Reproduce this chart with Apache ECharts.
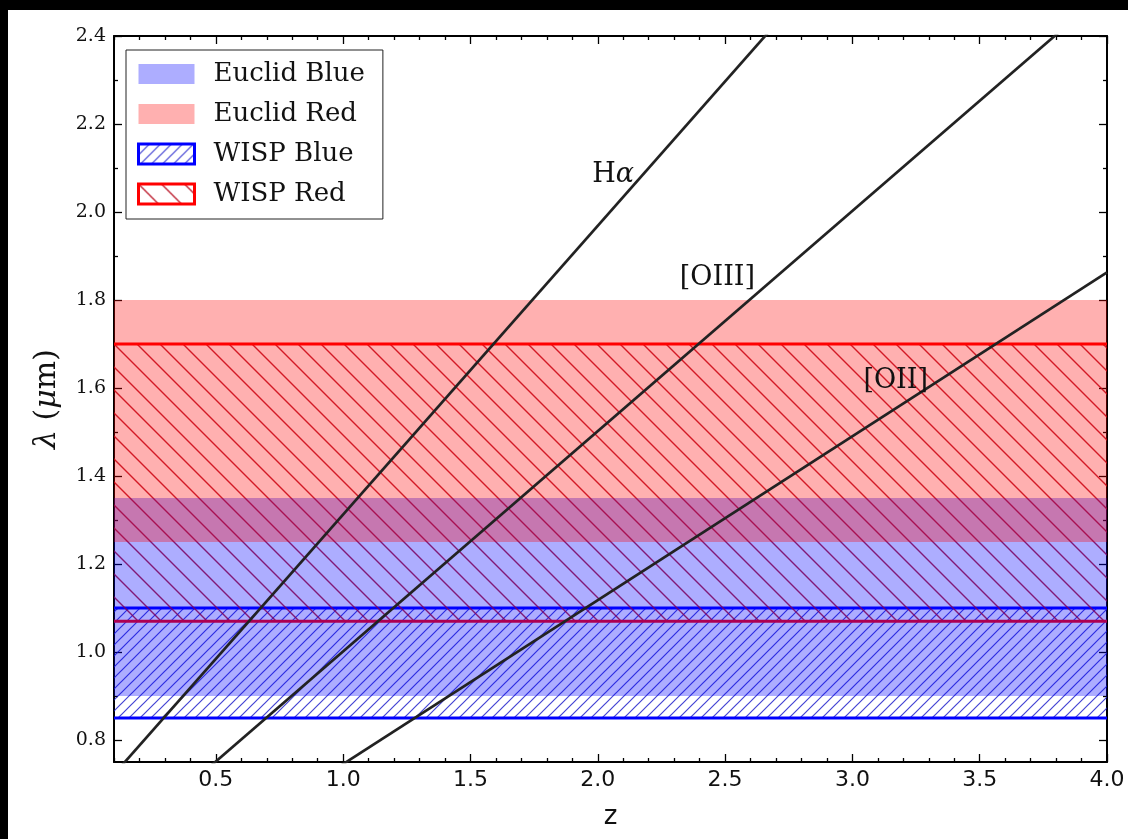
<!DOCTYPE html>
<html>
<head>
<meta charset="utf-8">
<script src="https://cdn.jsdelivr.net/npm/echarts@6/dist/echarts.min.js"></script>
<style>
  html, body { margin: 0; padding: 0; background: #fff; }
  #chart { width: 1128px; height: 839px; }
</style>
</head>
<body>
<div id="chart"></div>
<script>
// Axis ranges and ticks
const zRange = [0.1, 4.0];
const lamRange = [0.75, 2.4];
const zMajor = [0.5, 1.0, 1.5, 2.0, 2.5, 3.0, 3.5, 4.0];
const zMinor = [0.1, 0.2, 0.3, 0.4, 0.6, 0.7, 0.8, 0.9, 1.1, 1.2, 1.3, 1.4, 1.6, 1.7, 1.8, 1.9,
                2.1, 2.2, 2.3, 2.4, 2.6, 2.7, 2.8, 2.9, 3.1, 3.2, 3.3, 3.4, 3.6, 3.7, 3.8, 3.9];
const lamMajor = [0.8, 1.0, 1.2, 1.4, 1.6, 1.8, 2.0, 2.2, 2.4];
const lamMinor = [0.9, 1.1, 1.3, 1.5, 1.7, 1.9, 2.1, 2.3];

// Wavelength coverage of each grism (lower, upper), in microns
const euclidBlue = [0.90, 1.35];
const euclidRed = [1.25, 1.80];
const wispBlue = [0.85, 1.10];
const wispRed = [1.07, 1.70];

// Observed wavelength of each emission line vs redshift: [z, lambda]
const haLine = [[0.1, 0.722], [4.0, 3.281]];
const oiiiLine = [[0.1, 0.551], [4.0, 2.503]];
const oiiLine = [[0.1, 0.410], [4.0, 1.863]];

// Line name labels: text, z, lambda
const labelText = ['H{i|α}', '[OIII]', '[OII]'];
const labelZ = [2.06, 2.47, 3.17];
const labelLam = [2.085, 1.85, 1.615];

function hatch(spacing, color, dir, width) {
  const c = document.createElement('canvas');
  c.width = spacing; c.height = spacing;
  const ctx = c.getContext('2d');
  ctx.strokeStyle = color;
  ctx.lineWidth = width;
  const s = spacing;
  ctx.beginPath();
  if (dir === '/') {
    ctx.moveTo(0, s); ctx.lineTo(s, 0);
    ctx.moveTo(-2, 2); ctx.lineTo(2, -2);
    ctx.moveTo(s - 2, s + 2); ctx.lineTo(s + 2, s - 2);
  } else {
    ctx.moveTo(0, 0); ctx.lineTo(s, s);
    ctx.moveTo(-2, s - 2); ctx.lineTo(2, s + 2);
    ctx.moveTo(s - 2, -2); ctx.lineTo(s + 2, 2);
  }
  ctx.stroke();
  return { image: c, repeat: 'repeat' };
}

const blueHatch = hatch(11, 'rgba(20,20,200,0.8)', '/', 1.2);
const redHatch = hatch(23, 'rgba(180,0,20,0.85)', '\\', 1.4);
const blueFill = 'rgba(0,0,255,0.32)';
const redFill = 'rgba(255,0,0,0.31)';

function bandRenderer(fill, edge) {
  return function (params, api) {
    const p0 = api.coord([api.value(0), api.value(3)]);
    const p1 = api.coord([api.value(1), api.value(2)]);
    const children = [{
      type: 'rect',
      shape: { x: p0[0], y: p0[1], width: p1[0] - p0[0], height: p1[1] - p0[1] },
      style: { fill: fill }
    }];
    if (edge) {
      [p0[1], p1[1]].forEach(function (y) {
        children.push({
          type: 'line',
          shape: { x1: p0[0], y1: y, x2: p1[0], y2: y },
          style: { stroke: edge, lineWidth: 3 }
        });
      });
    }
    return { type: 'group', children: children };
  };
}

function band(name, range, fill, edge) {
  return {
    type: 'custom', name: name,
    xAxisIndex: 0, yAxisIndex: 0,
    data: [[zRange[0], zRange[1], range[0], range[1]]],
    encode: { x: [0, 1], y: [2, 3] },
    renderItem: bandRenderer(fill, edge),
    itemStyle: { color: fill, borderColor: edge || fill, borderWidth: edge ? 3 : 0 },
    silent: true, clip: true
  };
}

function emissionLine(name, pts) {
  return {
    type: 'line', name: name, data: pts,
    xAxisIndex: 0, yAxisIndex: 0,
    showSymbol: false, clip: true, z: 5,
    lineStyle: { color: '#222', width: 2.7 },
    silent: true
  };
}

function xAx(pos, values, len, main) {
  return {
    type: 'value', position: pos, min: zRange[0], max: zRange[1],
    axisLine: { show: main, onZero: false, lineStyle: { color: '#000', width: 2 } },
    axisTick: { show: true, inside: true, length: len, customValues: values, lineStyle: { color: '#000', width: 1.3 } },
    axisLabel: { show: false },
    splitLine: { show: false }
  };
}
function yAx(pos, values, len, main) {
  return {
    type: 'value', position: pos, min: lamRange[0], max: lamRange[1],
    axisLine: { show: main, onZero: false, lineStyle: { color: '#000', width: 2 } },
    axisTick: { show: true, inside: true, length: len, customValues: values, lineStyle: { color: '#000', width: 1.3 } },
    axisLabel: { show: false },
    splitLine: { show: false }
  };
}

const xBottom = xAx('bottom', zMajor, 8, true);
xBottom.axisLabel = {
  show: true, customValues: zMajor, margin: 7,
  formatter: function (v) { return v.toFixed(1); },
  fontFamily: 'DejaVu Sans', fontSize: 22, color: '#111'
};
xBottom.name = 'z';
xBottom.nameLocation = 'middle';
xBottom.nameGap = 42;
xBottom.nameTextStyle = { fontFamily: 'DejaVu Sans', fontSize: 26, color: '#111' };

const yLeft = yAx('left', lamMajor, 8, true);
yLeft.axisLabel = {
  show: true, customValues: lamMajor, margin: 8,
  formatter: function (v) { return v.toFixed(1); },
  fontFamily: 'DejaVu Serif', fontSize: 19, color: '#111'
};
yLeft.name = '{i|λ} ({i|μ}m)';
yLeft.nameLocation = 'middle';
yLeft.nameGap = 52;
yLeft.nameRotate = 90;
yLeft.nameTextStyle = {
  fontFamily: 'DejaVu Serif', fontSize: 30, color: '#111',
  rich: { i: { fontFamily: 'DejaVu Serif', fontStyle: 'italic', fontSize: 30, color: '#111' } }
};

const option = {
  animation: false,
  backgroundColor: '#fff',
  grid: { left: 114, right: 21, top: 36, bottom: 77, containLabel: false },
  xAxis: [xBottom, xAx('bottom', zMinor, 4, false), xAx('top', zMajor, 8, true), xAx('top', zMinor, 4, false)],
  yAxis: [yLeft, yAx('left', lamMinor, 4, false), yAx('right', lamMajor, 8, true), yAx('right', lamMinor, 4, false)],
  legend: {
    orient: 'vertical', left: 126, top: 50,
    itemWidth: 56, itemHeight: 20, itemGap: 14,
    padding: [11, 18, 12, 11],
    backgroundColor: '#fff', borderColor: '#222', borderWidth: 1, borderRadius: 0,
    selectedMode: false,
    textStyle: { fontFamily: 'DejaVu Serif', fontSize: 26, color: '#111', lineHeight: 20, padding: [0, 0, 0, 14] },
    data: [
      { name: 'Euclid Blue', icon: 'rect', itemStyle: { color: blueFill, borderWidth: 0 } },
      { name: 'Euclid Red', icon: 'rect', itemStyle: { color: redFill, borderWidth: 0 } },
      { name: 'WISP Blue', icon: 'rect', itemStyle: { color: blueHatch, borderColor: '#0000ff', borderWidth: 3 } },
      { name: 'WISP Red', icon: 'rect', itemStyle: { color: redHatch, borderColor: '#ff0000', borderWidth: 3 } }
    ]
  },
  graphic: [
    { type: 'rect', left: 0, top: 0, shape: { width: 1128, height: 10 }, style: { fill: '#000' }, z: 100 },
    { type: 'rect', left: 0, top: 0, shape: { width: 8, height: 839 }, style: { fill: '#000' }, z: 100 }
  ],
  series: [
    band('WISP Blue', wispBlue, blueHatch, '#0000ff'),
    band('WISP Red', wispRed, redHatch, '#ff0000'),
    band('Euclid Blue', euclidBlue, blueFill, null),
    band('Euclid Red', euclidRed, redFill, null),
    emissionLine('Hα', haLine),
    emissionLine('[OIII]', oiiiLine),
    emissionLine('[OII]', oiiLine),
    {
      type: 'scatter', name: 'line labels',
      xAxisIndex: 0, yAxisIndex: 0, symbolSize: 0, z: 6, silent: true,
      itemStyle: { opacity: 1 },
      data: labelText.map(function (t, i) { return { value: [labelZ[i], labelLam[i]], name: t }; }),
      label: {
        show: true, position: 'inside',
        formatter: function (p) { return p.name; },
        fontFamily: 'DejaVu Serif', fontSize: 27, color: '#111',
        rich: { i: { fontFamily: 'DejaVu Serif', fontStyle: 'italic', fontSize: 27, color: '#111' } }
      }
    }
  ]
};

const chart = echarts.init(document.getElementById('chart'), null, { renderer: 'canvas' });
chart.setOption(option);
</script>
</body>
</html>
